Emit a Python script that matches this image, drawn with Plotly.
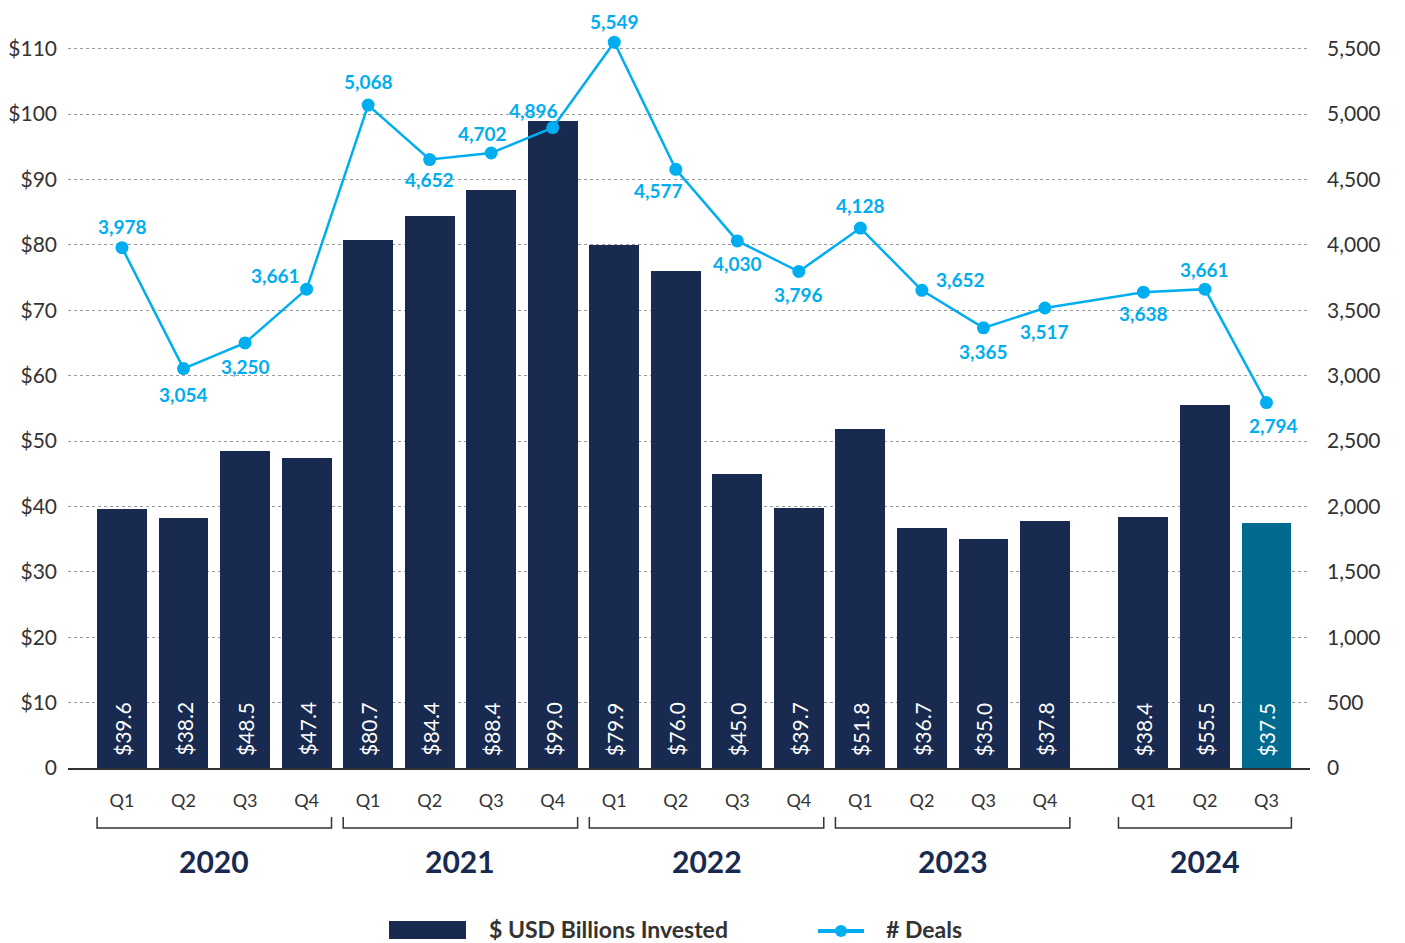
import plotly.graph_objects as go

# Quarterly venture data
years = [2020, 2020, 2020, 2020,
         2021, 2021, 2021, 2021,
         2022, 2022, 2022, 2022,
         2023, 2023, 2023, 2023,
         2024, 2024, 2024]
quarters = ["Q1", "Q2", "Q3", "Q4",
            "Q1", "Q2", "Q3", "Q4",
            "Q1", "Q2", "Q3", "Q4",
            "Q1", "Q2", "Q3", "Q4",
            "Q1", "Q2", "Q3"]
invested = [39.6, 38.2, 48.5, 47.4,
            80.7, 84.4, 88.4, 99.0,
            79.9, 76.0, 45.0, 39.7,
            51.8, 36.7, 35.0, 37.8,
            38.4, 55.5, 37.5]
deals = [3978, 3054, 3250, 3661,
         5068, 4652, 4702, 4896,
         5549, 4577, 4030, 3796,
         4128, 3652, 3365, 3517,
         3638, 3661, 2794]
left_ticks = [0, 10, 20, 30, 40, 50, 60, 70, 80, 90, 100, 110]
left_labels = ["0", "$10", "$20", "$30", "$40", "$50", "$60", "$70", "$80", "$90", "$100", "$110"]
right_ticks = [0, 500, 1000, 1500, 2000, 2500, 3000, 3500, 4000, 4500, 5000, 5500]

NAVY = "#182A4F"
TEAL = "#006B8F"
BLUE = "#00AEEF"
GREY = "#333333"
FONT = "Lato"

# x positions: the current year sits a little apart from the completed years
x_pos = [i + (0.6 if y == 2024 else 0.0) for i, y in enumerate(years)]
bar_colors = [NAVY] * (len(invested) - 1) + [TEAL]

# Geometry of the plotting area (pixels)
W, H = 1405, 943
PL, PR = 68, 1310
BASE_PX = 768
PX_PER_UNIT = 719 / 110
Y_TOP = 113
PLOT_H = Y_TOP * PX_PER_UNIT
MT = BASE_PX - PLOT_H
MB = H - BASE_PX


def px_x(p):
    return (p - PL) / (PR - PL)


def px_y(p):
    return (BASE_PX - p) / PLOT_H


fig = go.Figure()

fig.add_trace(go.Bar(
    x=x_pos, y=invested, width=0.81,
    marker=dict(color=bar_colors, line=dict(width=0)),
    name="$ USD Billions Invested", yaxis="y",
))

fig.add_trace(go.Scatter(
    x=x_pos, y=deals, mode="lines+markers",
    line=dict(color=BLUE, width=2.5),
    marker=dict(color=BLUE, size=13),
    name="# Deals", yaxis="y2", cliponaxis=False,
))

annotations = []

# values written inside the bars, reading upward from the base
for xp, v in zip(x_pos, invested):
    annotations.append(dict(
        x=xp, y=0, xref="x", yref="y", text=f"${v:.1f}", showarrow=False,
        textangle=-90, xanchor="center", yanchor="bottom", yshift=10,
        font=dict(family=FONT, size=21, color="white"),
    ))

# deal counts next to each point (x, y offsets in pixels)
label_offsets = [(0, 21), (0, -26), (0, -24), (-31, 14),
                 (0, 24), (0, -20), (-9, 20), (-19, 17),
                 (0, 21), (-17, -21), (0, -23), (0, -23),
                 (0, 23), (39, 11), (0, -24), (0, -24),
                 (0, -21), (0, 20), (7, -23)]
for xp, d, (dx, dy) in zip(x_pos, deals, label_offsets):
    annotations.append(dict(
        x=xp, y=d, xref="x", yref="y2", text=f"{d:,}", showarrow=False,
        xanchor="center", yanchor="middle", xshift=dx, yshift=dy,
        font=dict(family=FONT, size=19, color=BLUE, weight="bold"),
    ))

# year brackets under the quarter labels
shapes = []
br_top, br_bot = px_y(817), px_y(828)
for yr in sorted(set(years)):
    xs = [xp for xp, y in zip(x_pos, years) if y == yr]
    x0, x1 = xs[0] - 0.405, xs[-1] + 0.405
    shapes.append(dict(
        type="path", xref="x", yref="paper",
        path=f"M {x0},{br_top} L {x0},{br_bot} L {x1},{br_bot} L {x1},{br_top}",
        line=dict(color=GREY, width=1.5),
    ))
    annotations.append(dict(
        x=(x0 + x1) / 2, y=px_y(861), xref="x", yref="paper", text=str(yr),
        showarrow=False, xanchor="center", yanchor="middle",
        font=dict(family=FONT, size=30, color=NAVY, weight="bold"),
    ))

# legend drawn beneath the chart
leg_y = px_y(929)
shapes.append(dict(type="rect", xref="paper", yref="paper",
                   x0=px_x(389), x1=px_x(466), y0=px_y(921), y1=px_y(939),
                   fillcolor=NAVY, line=dict(width=0)))
shapes.append(dict(type="line", xref="paper", yref="paper",
                   x0=px_x(818), x1=px_x(864), y0=px_y(931), y1=px_y(931),
                   line=dict(color=BLUE, width=4)))
shapes.append(dict(type="circle", xref="paper", yref="paper",
                   x0=px_x(835), x1=px_x(847), y0=px_y(925), y1=px_y(937),
                   fillcolor=BLUE, line=dict(width=0)))
annotations.append(dict(x=px_x(487), y=leg_y, xref="paper", yref="paper",
                        text="$ USD Billions Invested", showarrow=False,
                        xanchor="left", yanchor="middle",
                        font=dict(family=FONT, size=23, color=GREY, weight="bold")))
annotations.append(dict(x=px_x(884), y=leg_y, xref="paper", yref="paper",
                        text="# Deals", showarrow=False,
                        xanchor="left", yanchor="middle",
                        font=dict(family=FONT, size=23, color=GREY, weight="bold")))

fig.update_layout(
    width=W, height=H,
    margin=dict(l=PL, r=W - PR, t=MT, b=MB, pad=0, autoexpand=False),
    plot_bgcolor="white", paper_bgcolor="white",
    showlegend=False, bargap=0,
    font=dict(family=FONT, color=GREY),
    xaxis=dict(
        range=[(PL - 122) / 61.53, (PR - 122) / 61.53],
        tickvals=x_pos, ticktext=quarters, ticks="",
        tickfont=dict(family=FONT, size=18, color=GREY),
        ticklabelstandoff=15, automargin=False,
        showgrid=False, zeroline=False,
        showline=True, linecolor=GREY, linewidth=2,
    ),
    yaxis=dict(
        range=[0, Y_TOP], tickvals=left_ticks, ticktext=left_labels,
        tickfont=dict(family=FONT, size=21, color=GREY),
        ticklabelstandoff=10, automargin=False,
        showgrid=True, gridcolor="#9a9a9a", griddash="dot", gridwidth=1,
        zeroline=False, showline=False, ticks="",
    ),
    yaxis2=dict(
        range=[0, Y_TOP / 110 * 5500], tickvals=right_ticks,
        tickformat=",", overlaying="y", side="right",
        tickfont=dict(family=FONT, size=21, color=GREY),
        ticklabelstandoff=16, automargin=False,
        showgrid=False, zeroline=False, showline=False, ticks="",
    ),
    annotations=annotations,
    shapes=shapes,
)

fig.write_html("out.html")
